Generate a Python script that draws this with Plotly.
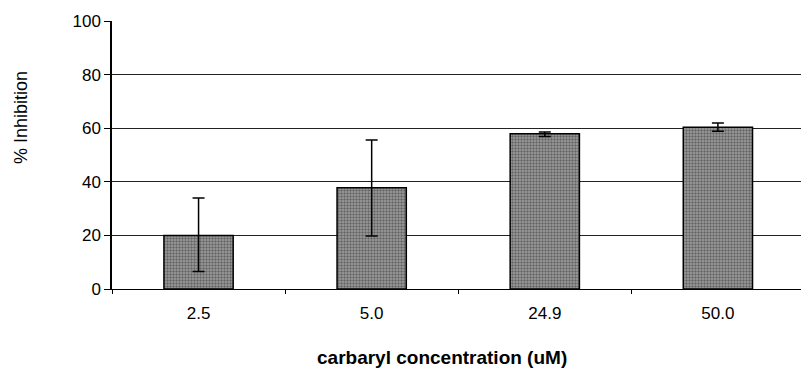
import plotly.graph_objects as go

categories = ["2.5", "5.0", "24.9", "50.0"]
inhibition = [20.0, 37.8, 57.9, 60.4]
err_plus = [14.0, 17.8, 0.7, 1.5]
err_minus = [13.5, 18.0, 1.0, 1.5]
y_ticks = [0, 20, 40, 60, 80, 100]

FONT = "Liberation Sans, Arial, sans-serif"

fig = go.Figure()
fig.add_trace(go.Bar(
    x=categories, y=inhibition, width=0.40,
    marker=dict(
        color="#8c8c8c",
        line=dict(color="black", width=1.5),
        pattern=dict(shape=".", fgcolor="#2a2a2a", bgcolor="#a0a0a0", size=3, solidity=0.5),
    ),
    error_y=dict(type="data", symmetric=False, array=err_plus, arrayminus=err_minus,
                 color="black", thickness=1.5, width=6),
    showlegend=False,
))

fig.update_layout(
    width=801, height=378,
    margin=dict(l=112, r=0, t=21, b=89),
    paper_bgcolor="white", plot_bgcolor="white",
    font=dict(family=FONT, size=17, color="black"),
    xaxis=dict(
        type="category", range=[-0.5, 3.48],
        showline=True, linecolor="black", linewidth=1,
        ticks="outside", tickson="boundaries", ticklen=4, tickcolor="black",
        showgrid=False, tickfont=dict(size=17), ticklabelstandoff=9,
    ),
    yaxis=dict(
        range=[0, 100], tickvals=y_ticks,
        showline=True, linecolor="black", linewidth=1.5,
        ticks="outside", ticklen=6, tickcolor="black",
        showgrid=True, gridcolor="#222", gridwidth=1,
        zeroline=False, tickfont=dict(size=17),
    ),
    annotations=[
        dict(text="% Inhibition", xref="paper", yref="paper", x=0, xshift=-91, y=0.638,
             textangle=-90, showarrow=False, font=dict(size=18), xanchor="center", yanchor="middle"),
        dict(text="<b>carbaryl concentration (uM)</b>", xref="paper", yref="paper",
             x=0.479, y=-0.254, showarrow=False, font=dict(size=19),
             xanchor="center", yanchor="middle"),
    ],
)

fig.write_html("out.html")
